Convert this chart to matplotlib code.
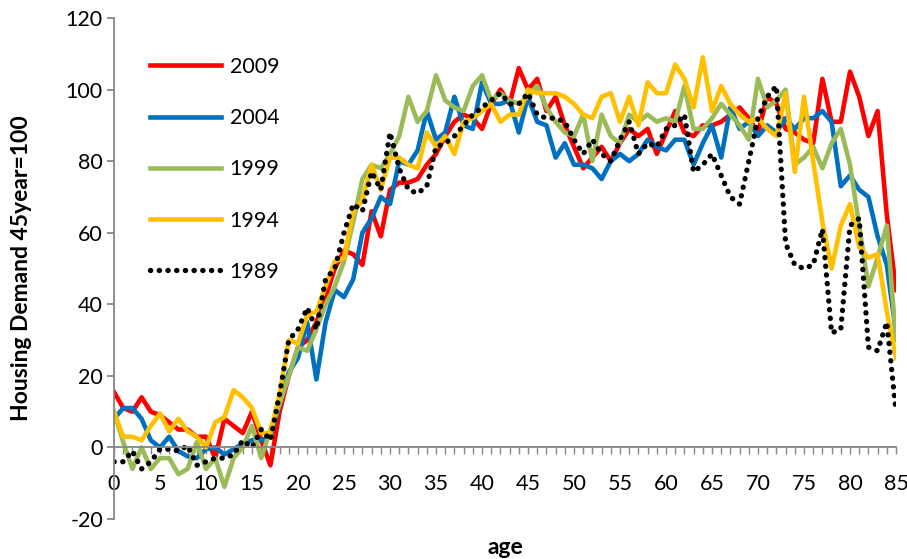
import numpy as np
import matplotlib
matplotlib.use('Agg')
import matplotlib.pyplot as plt

ages = list(range(0, 86))

y2009 = [15.5, 11, 10, 14, 10, 9, 7, 5, 5, 3, 3, -3, 8, 6, 4, 10, 2, -5, 10, 20,
         28, 30, 35, 42, 50, 55, 54, 51, 66, 59, 72, 74, 74, 75, 79, 82, 87, 91, 93, 92,
         89, 96, 100, 96, 106, 100, 103, 94, 98, 90, 84, 78, 81, 84, 80, 85, 89, 87, 89, 82,
         88, 94, 88, 87, 90, 90, 91, 93, 95, 92, 88, 98, 96, 89, 88, 86, 85, 103, 91, 91,
         105, 98, 87, 94, 65, 44]
y2004 = [8, 11, 11, 8, 2, 0, 3, -1, -2.5, -3, -0.5, 0, -2, -0.5, 1, 2, 2, 3, 12, 21,
         25, 35, 19, 35, 44, 42, 47, 60, 64, 70, 68, 80, 79, 83, 94, 86, 88, 98, 90, 89,
         102, 96, 96, 97, 88, 98, 91, 90, 81, 85, 79, 79, 78, 75, 80, 82, 80, 82, 86, 84,
         83, 86, 86, 79, 85, 90, 81, 95, 89, 91, 87, 90, 88, 92, 89, 92, 92, 94, 91, 73,
         76, 72, 70, 59, 51, 32]
y1999 = [10, 1.5, -6, 0, -6, -3, -3, -7.5, -6, 1.5, -6, -3, -11, -3, 0, 6, -3, 5, 12, 20,
         28, 27, 33, 40, 45, 52, 63, 75, 79, 78, 82, 87, 98, 91, 94, 104, 97, 95, 94, 101,
         104, 97, 99, 97, 96, 98, 101, 95, 91, 88, 87, 93, 80, 93, 87, 85, 93, 91, 93, 91,
         92, 91, 101, 89, 89, 92, 96, 93, 90, 86, 103, 95, 97, 100, 79, 81, 84, 78, 85, 89,
         79, 62, 45, 53, 62, 30]
y1994 = [10, 3, 3, 2, 6, 9.5, 4.5, 8, 4.5, 3, 0, 7, 8.5, 16, 14, 11, 4, 4, 15, 30,
         29, 37, 38, 45, 52, 53, 66, 69, 79, 72, 81, 81, 79, 78, 88, 84, 87, 82, 91, 92,
         94, 96, 91, 93, 93, 100, 99, 99, 99, 98, 96, 93, 92, 98, 99, 91, 98, 90, 102, 99,
         99, 107, 103, 95, 109, 94, 101, 96, 93, 91, 92, 89, 87, 99, 77, 98, 80, 63, 50, 62,
         68, 56, 53, 54, 38, 25]
y1989 = [-4, -4, -1, -6, -4, -0.5, -0.5, -1, 0.5, -5, -4, -3, -3, -2, 2, 0, 5, 2, 15, 30,
         33, 39, 33, 47, 50, 60, 68, 66, 77, 72, 88, 78, 72, 71, 73, 84, 85, 87, 90, 93,
         95, 97, 99, 96, 96, 99, 93, 92, 92, 91, 86, 82, 86, 82, 80, 86, 91, 82, 85, 84,
         89, 90, 93, 77, 79, 82, 76, 70, 68, 80, 92, 98, 101, 57, 51, 50, 51, 61, 32, 33,
         62, 64, 28, 27, 35, 10]

plt.rcParams['font.family'] = ['Lato', 'DejaVu Sans']
plt.rcParams['axes.unicode_minus'] = False

fig = plt.figure(figsize=(9.07, 5.59), dpi=100)
ax = fig.add_axes([114/907, 40/559, 782/907, 501/559])

ax.plot(ages, y2009, color='#FF0000', lw=3.3, label='2009')
ax.plot(ages, y2004, color='#0070C0', lw=3.3, label='2004')
ax.plot(ages, y1999, color='#9BBB59', lw=3.3, label='1999')
ax.plot(ages, y1994, color='#FFC000', lw=3.3, label='1994')
ax.plot(ages, y1989, color='black', lw=3.8, ls=(0, (0.05, 1.6)),
        dash_capstyle='round', label='1989')

ax.set_xlim(0, 85)
ax.set_ylim(-20, 120)
ax.spines['top'].set_visible(False)
ax.spines['right'].set_visible(False)
ax.spines['bottom'].set_position(('data', 0))
for s in ('left', 'bottom'):
    ax.spines[s].set_color('#868686')
    ax.spines[s].set_linewidth(1.3)

ax.set_yticks(range(-20, 121, 20))
ax.set_xticks(ages)
ax.set_xticklabels([str(a) if a % 5 == 0 else '' for a in ages])
ax.tick_params(axis='x', direction='out', length=5, width=1, color='#868686',
               labelsize=15.5, pad=14)
ax.tick_params(axis='y', direction='out', length=5, width=1.3, color='#868686',
               labelsize=15.5, pad=3)

ax.set_xlabel('age', fontsize=16.5, fontweight='bold')
ax.xaxis.set_label_coords(0.5, -0.035)
ax.set_ylabel('Housing Demand 45year=100', fontsize=16.5, fontweight='bold')
ax.yaxis.set_label_coords(-0.105, 0.5)

leg = ax.legend(loc='upper left', bbox_to_anchor=(150/907, 1 - 57/559),
                bbox_transform=fig.transFigure, frameon=False, fontsize=15.5,
                handlelength=3.3, handletextpad=0.4, labelspacing=1.45,
                borderpad=0, borderaxespad=0)

fig.savefig('out.png', dpi=100)
